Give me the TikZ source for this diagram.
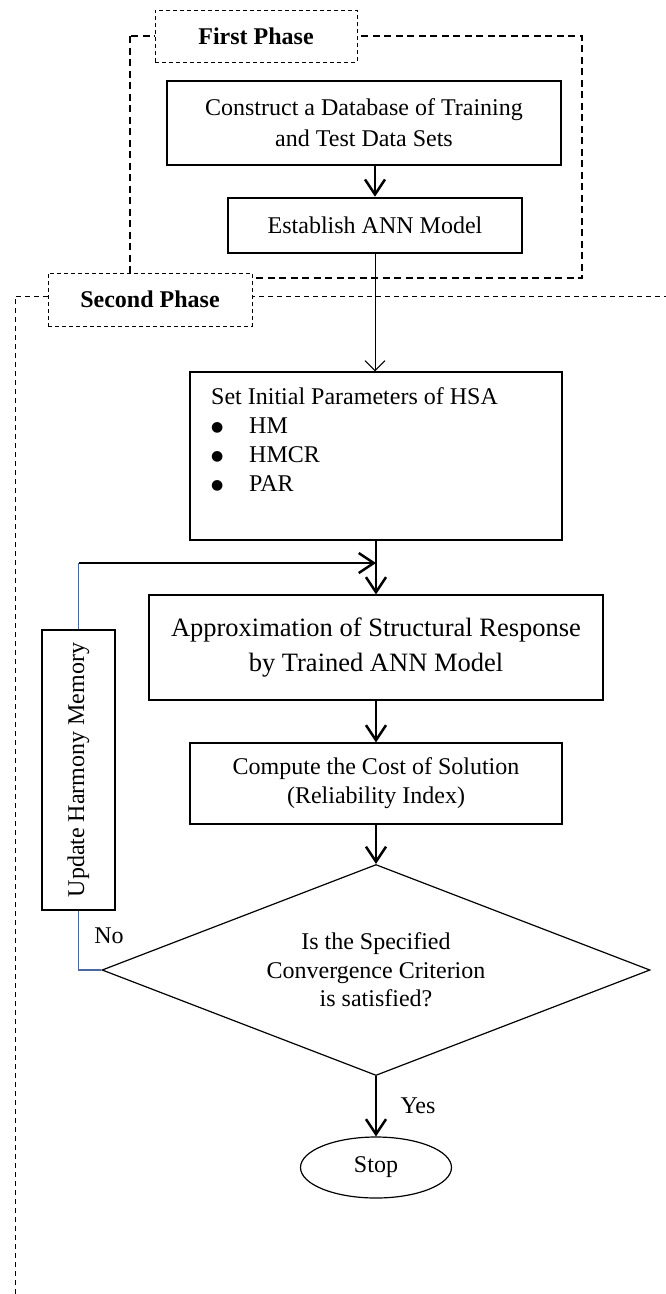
\documentclass[tikz,border=0pt]{standalone}
\usepackage{fontspec}
\setmainfont{Liberation Serif}
\newfontfamily\symfont{DejaVu Sans}
\usetikzlibrary{arrows.meta,shapes.geometric}
\definecolor{linkblue}{HTML}{4A68A0}
\newcommand{\hsaitem}{\makebox[38pt][l]{\raisebox{2pt}{\symfont\fontsize{14}{14}\selectfont ●}}}

\begin{document}
\begin{tikzpicture}[x=1pt,y=-1pt,
    txt/.style={font=\fontsize{24}{29}\selectfont},
    bigbox/.style={draw,line width=2.6pt,align=center,inner sep=0pt,txt},
    box/.style={draw,line width=1.2pt,align=center,inner sep=0pt,txt},
    phase/.style={draw,line width=1pt,dash pattern=on 4pt off 3pt,fill=white,inner sep=0pt,font=\fontsize{24}{29}\selectfont\bfseries},
    flow/.style={line width=2.5pt,-{Straight Barb[length=15pt,width=20pt]}},
    link/.style={linkblue,line width=1.2pt}]
        \useasboundingbox (0,0) rectangle (666,1294);

        \draw[line width=1.8pt,dash pattern=on 7pt off 4.5pt] (130,36) rectangle (582,278);
        \draw[line width=1pt,dash pattern=on 5pt off 4pt] (15,1294) -- (15,296) -- (666,296);

        \node[phase,minimum width=202pt,minimum height=52pt] (first) at (256,36) {First Phase};
        \node[phase,minimum width=204pt,minimum height=53pt] (second) at (150,299.5) {Second Phase};

        \node[bigbox,minimum width=394pt,minimum height=84pt,font=\fontsize{24}{31}\selectfont] (db) at (364,123) {Construct a Database of Training\\and Test Data Sets};
        \node[bigbox,minimum width=294pt,minimum height=55pt] (ann) at (375,225.5) {Establish ANN Model};

        \node[box,minimum width=372pt,minimum height=168pt] (init) at (376,456) {};
        \node[txt,align=left,anchor=north west,inner sep=0pt] (initlist) at (211,387) {Set Initial Parameters of HSA\\
            \hsaitem HM\\
            \hsaitem HMCR\\
            \hsaitem PAR};

        \node[box,minimum width=454pt,minimum height=105pt,font=\fontsize{26.5}{35}\selectfont] (approx) at (376,647.5) {Approximation of Structural Response\\by Trained ANN Model};
        \node[box,minimum width=73pt,minimum height=280pt] (update) at (78.5,770) {\rotatebox{90}{Update Harmony Memory}};
        \node[box,minimum width=372pt,minimum height=81pt] (cost) at (376,783.5) {Compute the Cost of Solution\\(Reliability Index)};
        \node[diamond,draw,line width=1.2pt,aspect=2.6,inner sep=0pt,minimum width=548pt,minimum height=211pt,align=center,font=\fontsize{24}{28.5}\selectfont] (check) at (376,970) {Is the Specified\\Convergence Criterion\\is satisfied?};
        \node[ellipse,draw,line width=1.2pt,minimum width=151pt,minimum height=61pt,txt] (stop) at (376,1167.5) {Stop};

        \coordinate (merge) at (376,563);

        \draw[flow] (ann.north |- db.south) -- (ann.north);
        \draw[line width=1pt,-{Straight Barb[length=10pt,width=20pt]}] (ann.south) -- (ann.south |- init.north);
        \draw[flow] (init.south) -- (approx.north);
        \draw[link] (update.north) -- (update.north |- merge);
        \draw[flow] (update.north |- merge) -- (merge);
        \draw[flow] (approx.south) -- (cost.north);
        \draw[flow] (cost.south) -- (check.north);
        \draw[link] (check.west) -- (check.west -| update.south) -- (update.south);
        \node[txt] (no) at (109,936) {No};
        \draw[flow] (check.south) -- (stop.north);
        \node[txt] (yes) at (418,1106) {Yes};
    \end{tikzpicture}
\end{document}
